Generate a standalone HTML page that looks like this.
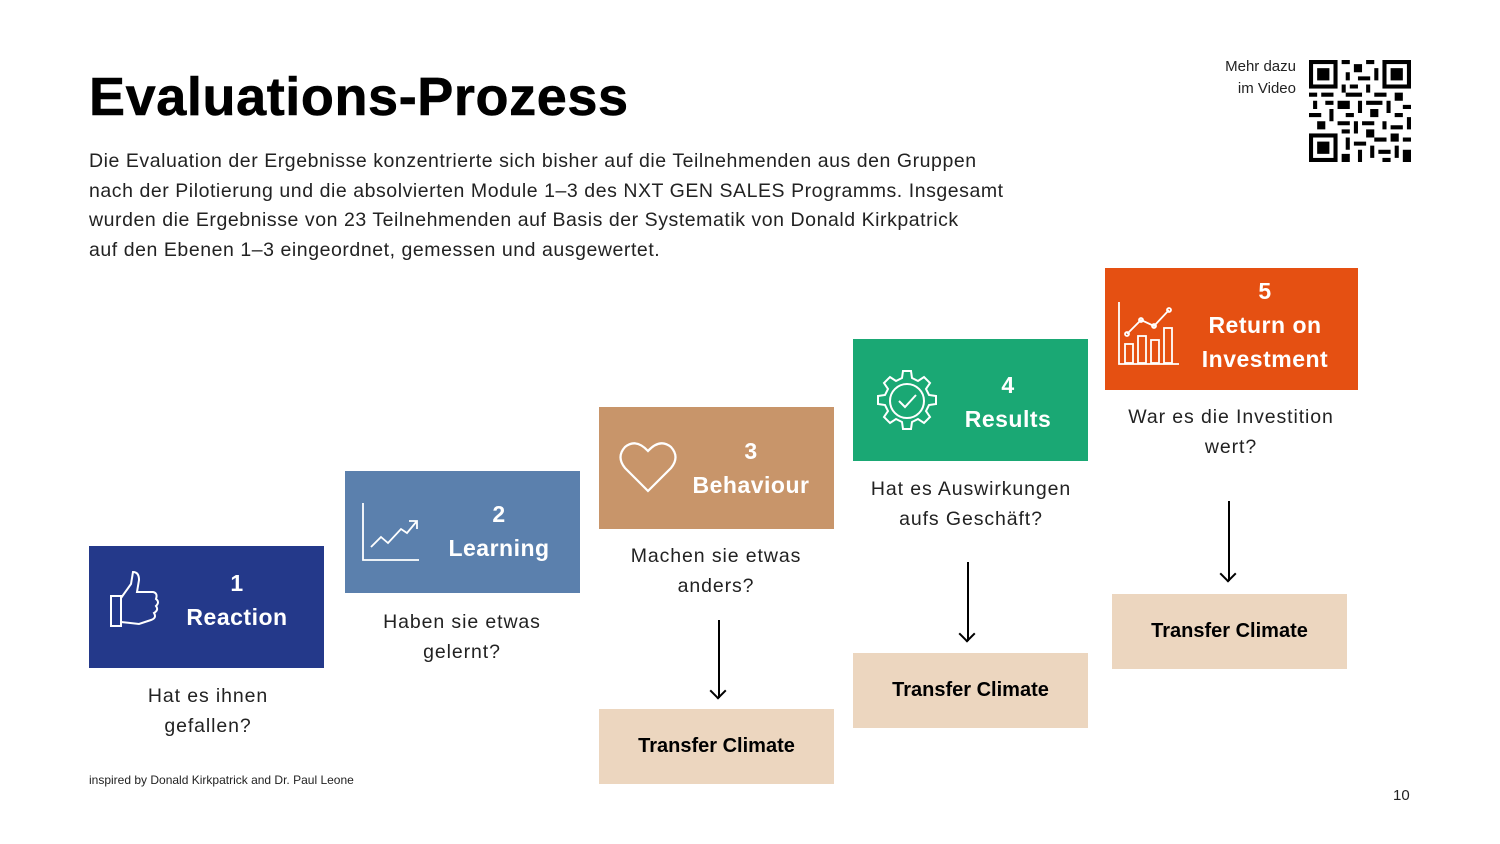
<!DOCTYPE html>
<html><head><meta charset="utf-8"><style>
*{margin:0;padding:0;box-sizing:border-box}
body{width:1500px;height:844px;background:#fff;position:relative;overflow:hidden;font-family:"Liberation Sans",sans-serif;color:#111}
.a{position:absolute}
h1{position:absolute;left:89px;top:66px;font-size:54px;font-weight:bold;letter-spacing:0.6px;color:#000;-webkit-text-stroke:0.6px #000}
.p{left:89px;top:147px;font-size:19.5px;line-height:29.5px;color:#222;width:1000px;letter-spacing:0.55px}
.box{position:absolute;width:235px;height:122px;color:#fff;font-weight:bold;font-size:23px;letter-spacing:0.5px}
.box .t{position:absolute;text-align:center;line-height:34px}
.q{position:absolute;width:260px;text-align:center;font-size:19.5px;line-height:29.5px;color:#222;letter-spacing:0.9px}
.tc{position:absolute;width:235px;height:75px;background:#ecd6bf;font-weight:bold;font-size:20px;display:flex;align-items:center;justify-content:center;color:#000}
.ar{position:absolute;width:2px;background:#000}
.ar:after{content:"";position:absolute;left:-6px;bottom:0;width:10px;height:10px;border-right:2px solid #000;border-bottom:2px solid #000;transform:rotate(45deg);transform-origin:center;margin-bottom:1px}
</style></head><body>
<h1>Evaluations-Prozess</h1>
<div class="a p">Die Evaluation der Ergebnisse konzentrierte sich bisher auf die Teilnehmenden aus den Gruppen<br>nach der Pilotierung und die absolvierten Module 1–3 des NXT GEN SALES Programms. Insgesamt<br>wurden die Ergebnisse von 23 Teilnehmenden auf Basis der Systematik von Donald Kirkpatrick<br>auf den Ebenen 1–3 eingeordnet, gemessen und ausgewertet.</div>
<div class="a" style="right:204px;top:56px;font-size:15px;line-height:22px;text-align:right;color:#222">Mehr dazu<br>im Video</div>
<svg class="a" style="left:1309px;top:60px" width="102" height="102" viewBox="0 0 25 25">
<g fill="#000">
<rect x="0" y="0" width="7" height="7"/><rect x="1" y="1" width="5" height="5" fill="#fff"/><rect x="2" y="2" width="3" height="3"/>
<rect x="18" y="0" width="7" height="7"/><rect x="19" y="1" width="5" height="5" fill="#fff"/><rect x="20" y="2" width="3" height="3"/>
<rect x="0" y="18" width="7" height="7"/><rect x="1" y="19" width="5" height="5" fill="#fff"/><rect x="2" y="20" width="3" height="3"/>
<path d="M8 0h2v1h-2zM11 1h2v2h-2zM14 0h2v1h-2zM9 3h1v2h-1zM12 4h3v1h-3zM16 2h1v3h-1zM8 6h1v2h-1zM10 6h2v1h-2zM14 6h1v2h-1zM0 8h2v1h-2zM3 8h3v1h-3zM9 8h4v1h-4zM16 8h3v1h-3zM21 8h2v2h-2zM1 10h1v2h-1zM4 10h2v1h-2zM7 10h3v2h-3zM12 10h1v3h-1zM14 10h4v1h-4zM19 10h1v3h-1zM23 11h2v1h-2zM0 13h3v1h-3zM5 12h1v3h-1zM9 13h2v1h-2zM15 12h2v2h-2zM21 13h2v1h-2zM2 15h2v2h-2zM7 15h3v1h-3zM11 15h1v3h-1zM13 15h3v1h-3zM18 15h1v2h-1zM20 16h3v1h-3zM24 14h1v3h-1zM8 17h2v1h-2zM14 17h2v2h-2zM9 19h1v3h-1zM11 20h3v1h-3zM16 19h3v1h-3zM20 18h2v2h-2zM23 19h2v1h-2zM8 23h2v2h-2zM12 22h1v3h-1zM15 21h1v3h-1zM17 22h3v1h-3zM21 21h1v3h-1zM23 22h2v3h-2zM18 24h2v1h-2z"/>
</g></svg>

<div class="box" style="left:89px;top:546px;background:#24398a">
<svg class="a" style="left:20px;top:24px" width="52" height="60" viewBox="0 0 52 60" fill="none" stroke="#fff" stroke-width="2"><rect x="2" y="26" width="10" height="30"/><path d="M12 28 L22 14 L24 2 Q30 2 30 10 L28 22 L44 22 Q49 23 47 29 Q51 32 47 36 Q50 40 45 43 Q48 48 42 50 L30 54 L12 52"/></svg>
<div class="t" style="left:80px;width:136px;top:20px">1<br>Reaction</div></div>
<div class="box" style="left:345px;top:471px;background:#5b80ad">
<svg class="a" style="left:16px;top:30px" width="60" height="62" viewBox="0 0 60 62" fill="none" stroke="#fff" stroke-width="1.8"><path d="M2 2 V59 H58"/><path d="M10 46 L20 36 L27 42 L40 28 L46 32 L56 20 M48 20 H56 V28"/></svg>
<div class="t" style="left:84px;width:140px;top:26px">2<br>Learning</div></div>
<div class="box" style="left:599px;top:407px;background:#c8956a">
<svg class="a" style="left:20px;top:34px" width="58" height="52" viewBox="0 0 58 52" fill="none" stroke="#fff" stroke-width="2.2"><path d="M29 50 L6 27 Q-3 16 6 6 Q17 -3 29 10 Q41 -3 52 6 Q61 16 52 27 Z"/></svg>
<div class="t" style="left:84px;width:136px;top:27px">3<br>Behaviour</div></div>
<div class="box" style="left:853px;top:339px;background:#1aa874">
<svg class="a" style="left:22px;top:30px" width="64" height="64" viewBox="0 0 64 64" fill="none" stroke="#fff" stroke-width="2"><circle cx="32" cy="32" r="17"/><path d="M24 32 L30 38 L41 26"/><path d="M28 2h8l1 7 6 3 6-4 6 6-4 6 3 6 7 1v8l-7 1-3 6 4 6-6 6-6-4-6 3-1 7h-8l-1-7-6-3-6 4-6-6 4-6-3-6-7-1v-8l7-1 3-6-4-6 6-6 6 4 6-3z"/></svg>
<div class="t" style="left:96px;width:118px;top:29px">4<br>Results</div></div>
<div class="box" style="left:1105px;top:268px;width:253px;background:#e55012">
<svg class="a" style="left:12px;top:32px" width="64" height="66" viewBox="0 0 64 66" fill="none" stroke="#fff" stroke-width="1.8"><path d="M2 2 V64 H62"/><rect x="8" y="44" width="8" height="19"/><rect x="21" y="36" width="8" height="27"/><rect x="34" y="40" width="8" height="23"/><rect x="47" y="28" width="8" height="35"/><path d="M10 34 L24 20 L37 26 L52 10"/><circle cx="10" cy="34" r="2"/><circle cx="24" cy="20" r="2"/><circle cx="37" cy="26" r="2"/><circle cx="52" cy="10" r="2"/></svg>
<div class="t" style="left:82px;width:156px;top:6px">5<br>Return on<br>Investment</div></div>

<div class="q" style="left:78px;top:682px">Hat es ihnen<br>gefallen?</div>
<div class="q" style="left:332px;top:608px">Haben sie etwas<br>gelernt?</div>
<div class="q" style="left:586px;top:542px">Machen sie etwas<br>anders?</div>
<div class="q" style="left:841px;top:475px">Hat es Auswirkungen<br>aufs Geschäft?</div>
<div class="q" style="left:1101px;top:403px">War es die Investition<br>wert?</div>

<div class="ar" style="left:718px;top:620px;height:78px"></div>
<div class="ar" style="left:967px;top:562px;height:79px"></div>
<div class="ar" style="left:1228px;top:501px;height:80px"></div>
<div class="tc" style="left:599px;top:709px">Transfer Climate</div>
<div class="tc" style="left:853px;top:653px">Transfer Climate</div>
<div class="tc" style="left:1112px;top:594px">Transfer Climate</div>

<div class="a" style="left:89px;top:773px;font-size:12px;color:#222">inspired by Donald Kirkpatrick and Dr. Paul Leone</div>
<div class="a" style="left:1393px;top:787px;font-size:15px;color:#222">10</div>
</body></html>
